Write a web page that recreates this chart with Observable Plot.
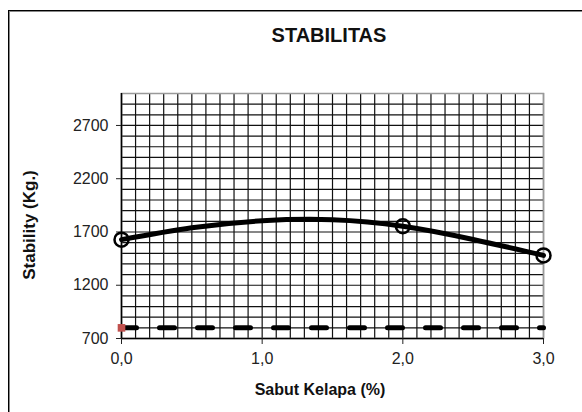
<!DOCTYPE html>
<html>
<head>
<meta charset="utf-8">
<script src="https://cdn.jsdelivr.net/npm/d3@7"></script>
<script src="https://cdn.jsdelivr.net/npm/@observablehq/plot@0.6"></script>
<style>
  html, body { margin: 0; padding: 0; background: white; }
  #wrap { position: relative; width: 582px; height: 412px; overflow: hidden; background: white; font-family: "Liberation Sans", Arial, sans-serif; color: #111; }
  #border { position: absolute; left: 8px; top: 10px; width: 640px; height: 460px; border-left: 1px solid #000; border-top: 1px solid #000; box-shadow: inset 1px 1px 0 #888; }
  #title { position: absolute; left: 229px; width: 200px; top: 23px; line-height: 24px; text-align: center; font-size: 20px; font-weight: bold; }
  #xlabel { position: absolute; left: 220px; width: 200px; top: 380px; line-height: 20px; text-align: center; font-size: 16px; font-weight: bold; }
  #ylabel { position: absolute; left: -70px; width: 200px; top: 215px; line-height: 20px; text-align: center; font-size: 17px; font-weight: bold; transform: rotate(-90deg); transform-origin: 100px 10px; }
  #chart { position: absolute; left: 0; top: 0; }
</style>
</head>
<body>
<div id="wrap">
  <div id="border"></div>
  <div id="chart"></div>
  <div id="title">STABILITAS</div>
  <div id="xlabel">Sabut Kelapa (%)</div>
  <div id="ylabel">Stability (Kg.)</div>
</div>
<script>
// Data
const sabutKelapa = [0, 2, 3];            // % sabut kelapa (measured points)
const stabilitas = [1628, 1754, 1480];     // Stability (Kg.)
const trendX = [0, 0.5, 1, 1.5, 2, 2.5, 3];          // trend curve
const trendY = [1628, 1740, 1805, 1815, 1754, 1630, 1480];
const specX = [0, 3];                       // minimum spec line
const specY = [800, 800];
const specMarkerX = [0];
const specMarkerY = [800];

const xTicks = [0, 1, 2, 3];
const xTickLabels = ["0,0", "1,0", "2,0", "3,0"];
const yTicks = [700, 1200, 1700, 2200, 2700];
const yTickLabels = ["700", "1200", "1700", "2200", "2700"];
const xGrid = d3.range(0, 31).map(i => i / 10);
const yGrid = d3.range(700, 3001, 100);

const points = sabutKelapa.map((x, i) => ({x, y: stabilitas[i]}));
const trend = trendX.map((x, i) => ({x, y: trendY[i]}));
const spec = specX.map((x, i) => ({x, y: specY[i]}));
const specMarker = specMarkerX.map((x, i) => ({x, y: specMarkerY[i]}));

const chart = Plot.plot({
  width: 582,
  height: 412,
  marginLeft: 121,
  marginRight: 39,
  marginTop: 93,
  marginBottom: 74,
  style: {fontFamily: "'Liberation Sans', Arial, sans-serif", fontSize: "16px", color: "#222", background: "transparent"},
  x: {domain: [0, 3]},
  y: {domain: [700, 3000]},
  marks: [
    Plot.gridX(xGrid, {stroke: "#111", strokeOpacity: 1, strokeWidth: 1.2}),
    Plot.gridY(yGrid, {stroke: "#111", strokeOpacity: 1, strokeWidth: 1.2}),
    Plot.frame({stroke: "#999", strokeWidth: 1.5}),
    Plot.ruleX([0], {stroke: "#000", strokeWidth: 1.5}),
    Plot.ruleY([700], {stroke: "#000", strokeWidth: 1.5}),
    Plot.axisX(xTicks, {
      tickSize: 6, tickPadding: 8,
      tickFormat: d => xTickLabels[xTicks.indexOf(d)],
      label: null
    }),
    Plot.axisY(yTicks, {
      tickSize: 5, tickPadding: 8,
      tickFormat: d => yTickLabels[yTicks.indexOf(d)],
      label: null
    }),
    Plot.line(spec, {x: "x", y: "y", stroke: "#000", strokeWidth: 5, strokeDasharray: "15,23", strokeLinecap: "round"}),
    Plot.dot(specMarker, {x: "x", y: "y", symbol: "square", r: 4.3, fill: "#c0504d", stroke: "none"}),
    Plot.line(trend, {x: "x", y: "y", curve: "natural", stroke: "#000", strokeWidth: 5}),
    Plot.dot(points, {x: "x", y: "y", r: 7, stroke: "#000", strokeWidth: 2.5, fill: "none"})
  ]
});
document.getElementById("chart").appendChild(chart);
</script>
</body>
</html>
